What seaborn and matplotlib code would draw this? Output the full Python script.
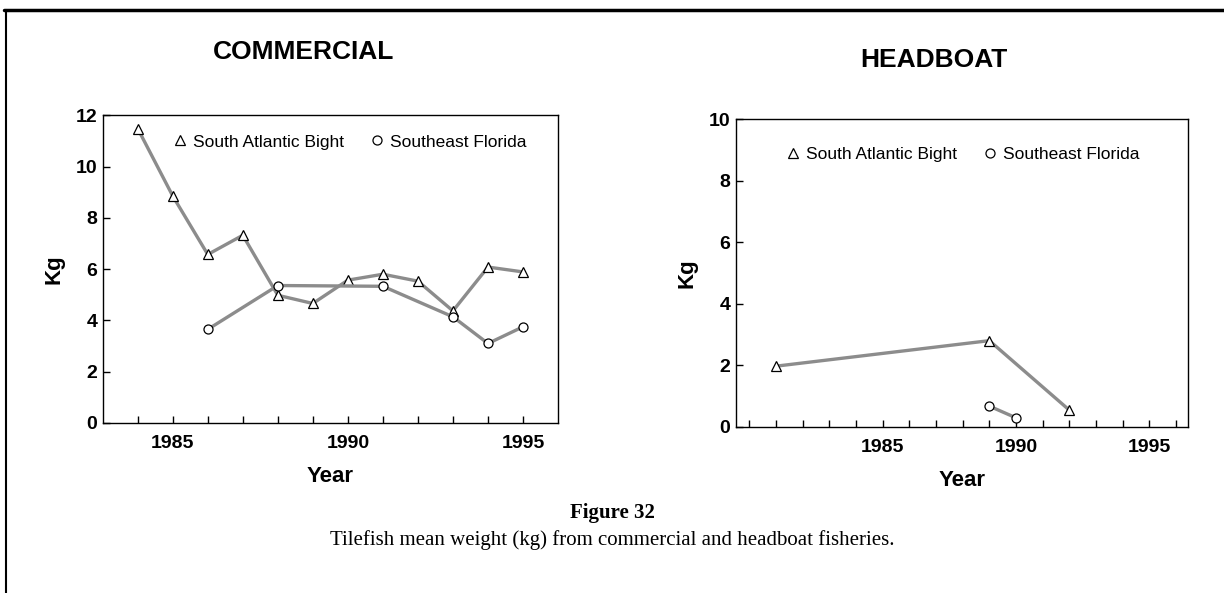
import pandas as pd
import seaborn as sns
import matplotlib.pyplot as plt
from matplotlib.lines import Line2D

# data (kg)
com_sab_year = [1984, 1985, 1986, 1987, 1988, 1989, 1990, 1991, 1992, 1993, 1994, 1995]
com_sab_kg = [11.48, 8.85, 6.57, 7.32, 4.98, 4.66, 5.57, 5.80, 5.53, 4.37, 6.08, 5.89]
com_sef_year = [1986, 1988, 1991, 1993, 1994, 1995]
com_sef_kg = [3.65, 5.36, 5.33, 4.14, 3.10, 3.75]

hb_sab_year = [1981, 1989, 1992]
hb_sab_kg = [1.97, 2.80, 0.54]
hb_sef_year = [1989, 1990]
hb_sef_kg = [0.67, 0.29]

series_names = ['South Atlantic Bight', 'Southeast Florida']

sns.set_style('white')
plt.rcParams['font.family'] = ['Liberation Sans', 'DejaVu Sans']
plt.rcParams['text.color'] = 'black'
plt.rcParams['axes.labelcolor'] = 'black'
plt.rcParams['xtick.color'] = 'black'
plt.rcParams['ytick.color'] = 'black'

fig = plt.figure(figsize=(12.24, 5.93), dpi=100)

line_color = '#8c8c8c'
mk = dict(markeredgecolor='black', markeredgewidth=0.9, markerfacecolor='white')


def draw_panel(ax, sab_x, sab_y, sef_x, sef_y, xlim, ylim, yticks, minor_years,
               title, title_pos, legend_pos):
    df_sab = pd.DataFrame({'Year': sab_x, 'Kg': sab_y})
    df_sef = pd.DataFrame({'Year': sef_x, 'Kg': sef_y})
    sns.lineplot(data=df_sab, x='Year', y='Kg', ax=ax, color=line_color, lw=2.4,
                 marker='^', markersize=7, **mk)
    sns.lineplot(data=df_sef, x='Year', y='Kg', ax=ax, color=line_color, lw=2.4,
                 marker='o', markersize=6.5, **mk)
    ax.set_xlim(*xlim)
    ax.set_ylim(*ylim)
    ax.set_yticks(yticks)
    ax.set_xticks([1985, 1990, 1995])
    ax.set_xticks(minor_years, minor=True)
    ax.tick_params(axis='both', which='both', direction='in', length=5, width=1,
                   color='black', labelsize=14, bottom=True, left=True)
    ax.tick_params(axis='x', pad=9)
    ax.tick_params(axis='y', pad=4)
    for lab in ax.get_xticklabels() + ax.get_yticklabels():
        lab.set_fontweight('bold')
    for sp in ax.spines.values():
        sp.set_color('black')
        sp.set_linewidth(1.0)
    ax.set_xlabel('Year', fontsize=16, fontweight='bold', labelpad=10)
    ax.set_ylabel('Kg', fontsize=16, fontweight='bold', labelpad=8)
    handles = [Line2D([], [], linestyle='none', marker='^', markersize=7,
                      markerfacecolor='white', markeredgecolor='black', markeredgewidth=0.9),
               Line2D([], [], linestyle='none', marker='o', markersize=6.5,
                      markerfacecolor='white', markeredgecolor='black', markeredgewidth=0.9)]
    ax.legend(handles, series_names, ncol=2, frameon=False, fontsize=12.5,
              loc='center', bbox_to_anchor=legend_pos, handlelength=1.0,
              handletextpad=0.25, columnspacing=1.4)
    fig.text(title_pos[0], title_pos[1], title, ha='center', va='center',
             fontsize=19, fontweight='bold')


ax1 = fig.add_axes([0.0839, 0.2867, 0.372, 0.519])
draw_panel(ax1, com_sab_year, com_sab_kg, com_sef_year, com_sef_kg,
           (1983, 1996), (0, 12), [0, 2, 4, 6, 8, 10, 12], list(range(1984, 1996)),
           'COMMERCIAL', (0.248, 0.912), (0.54, 0.913))

ax2 = fig.add_axes([0.6013, 0.2804, 0.3693, 0.5184])
draw_panel(ax2, hb_sab_year, hb_sab_kg, hb_sef_year, hb_sef_kg,
           (1979.5, 1996.45), (0, 10), [0, 2, 4, 6, 8, 10], list(range(1980, 1997)),
           'HEADBOAT', (0.763, 0.899), (0.5, 0.887))

# page frame lines of the scanned figure
fig.add_artist(Line2D([0.003, 1.0], [0.983, 0.983], color='black', lw=2.5))
fig.add_artist(Line2D([0.005, 0.005], [0.0, 0.983], color='black', lw=1.5))

fig.text(0.5, 0.135, 'Figure 32', ha='center', va='center', fontsize=15,
         fontweight='bold', family=['Liberation Serif', 'DejaVu Serif'])
fig.text(0.5, 0.089, 'Tilefish mean weight (kg) from commercial and headboat fisheries.',
         ha='center', va='center', fontsize=15, family=['Liberation Serif', 'DejaVu Serif'])

fig.savefig('out.png', dpi=100)
